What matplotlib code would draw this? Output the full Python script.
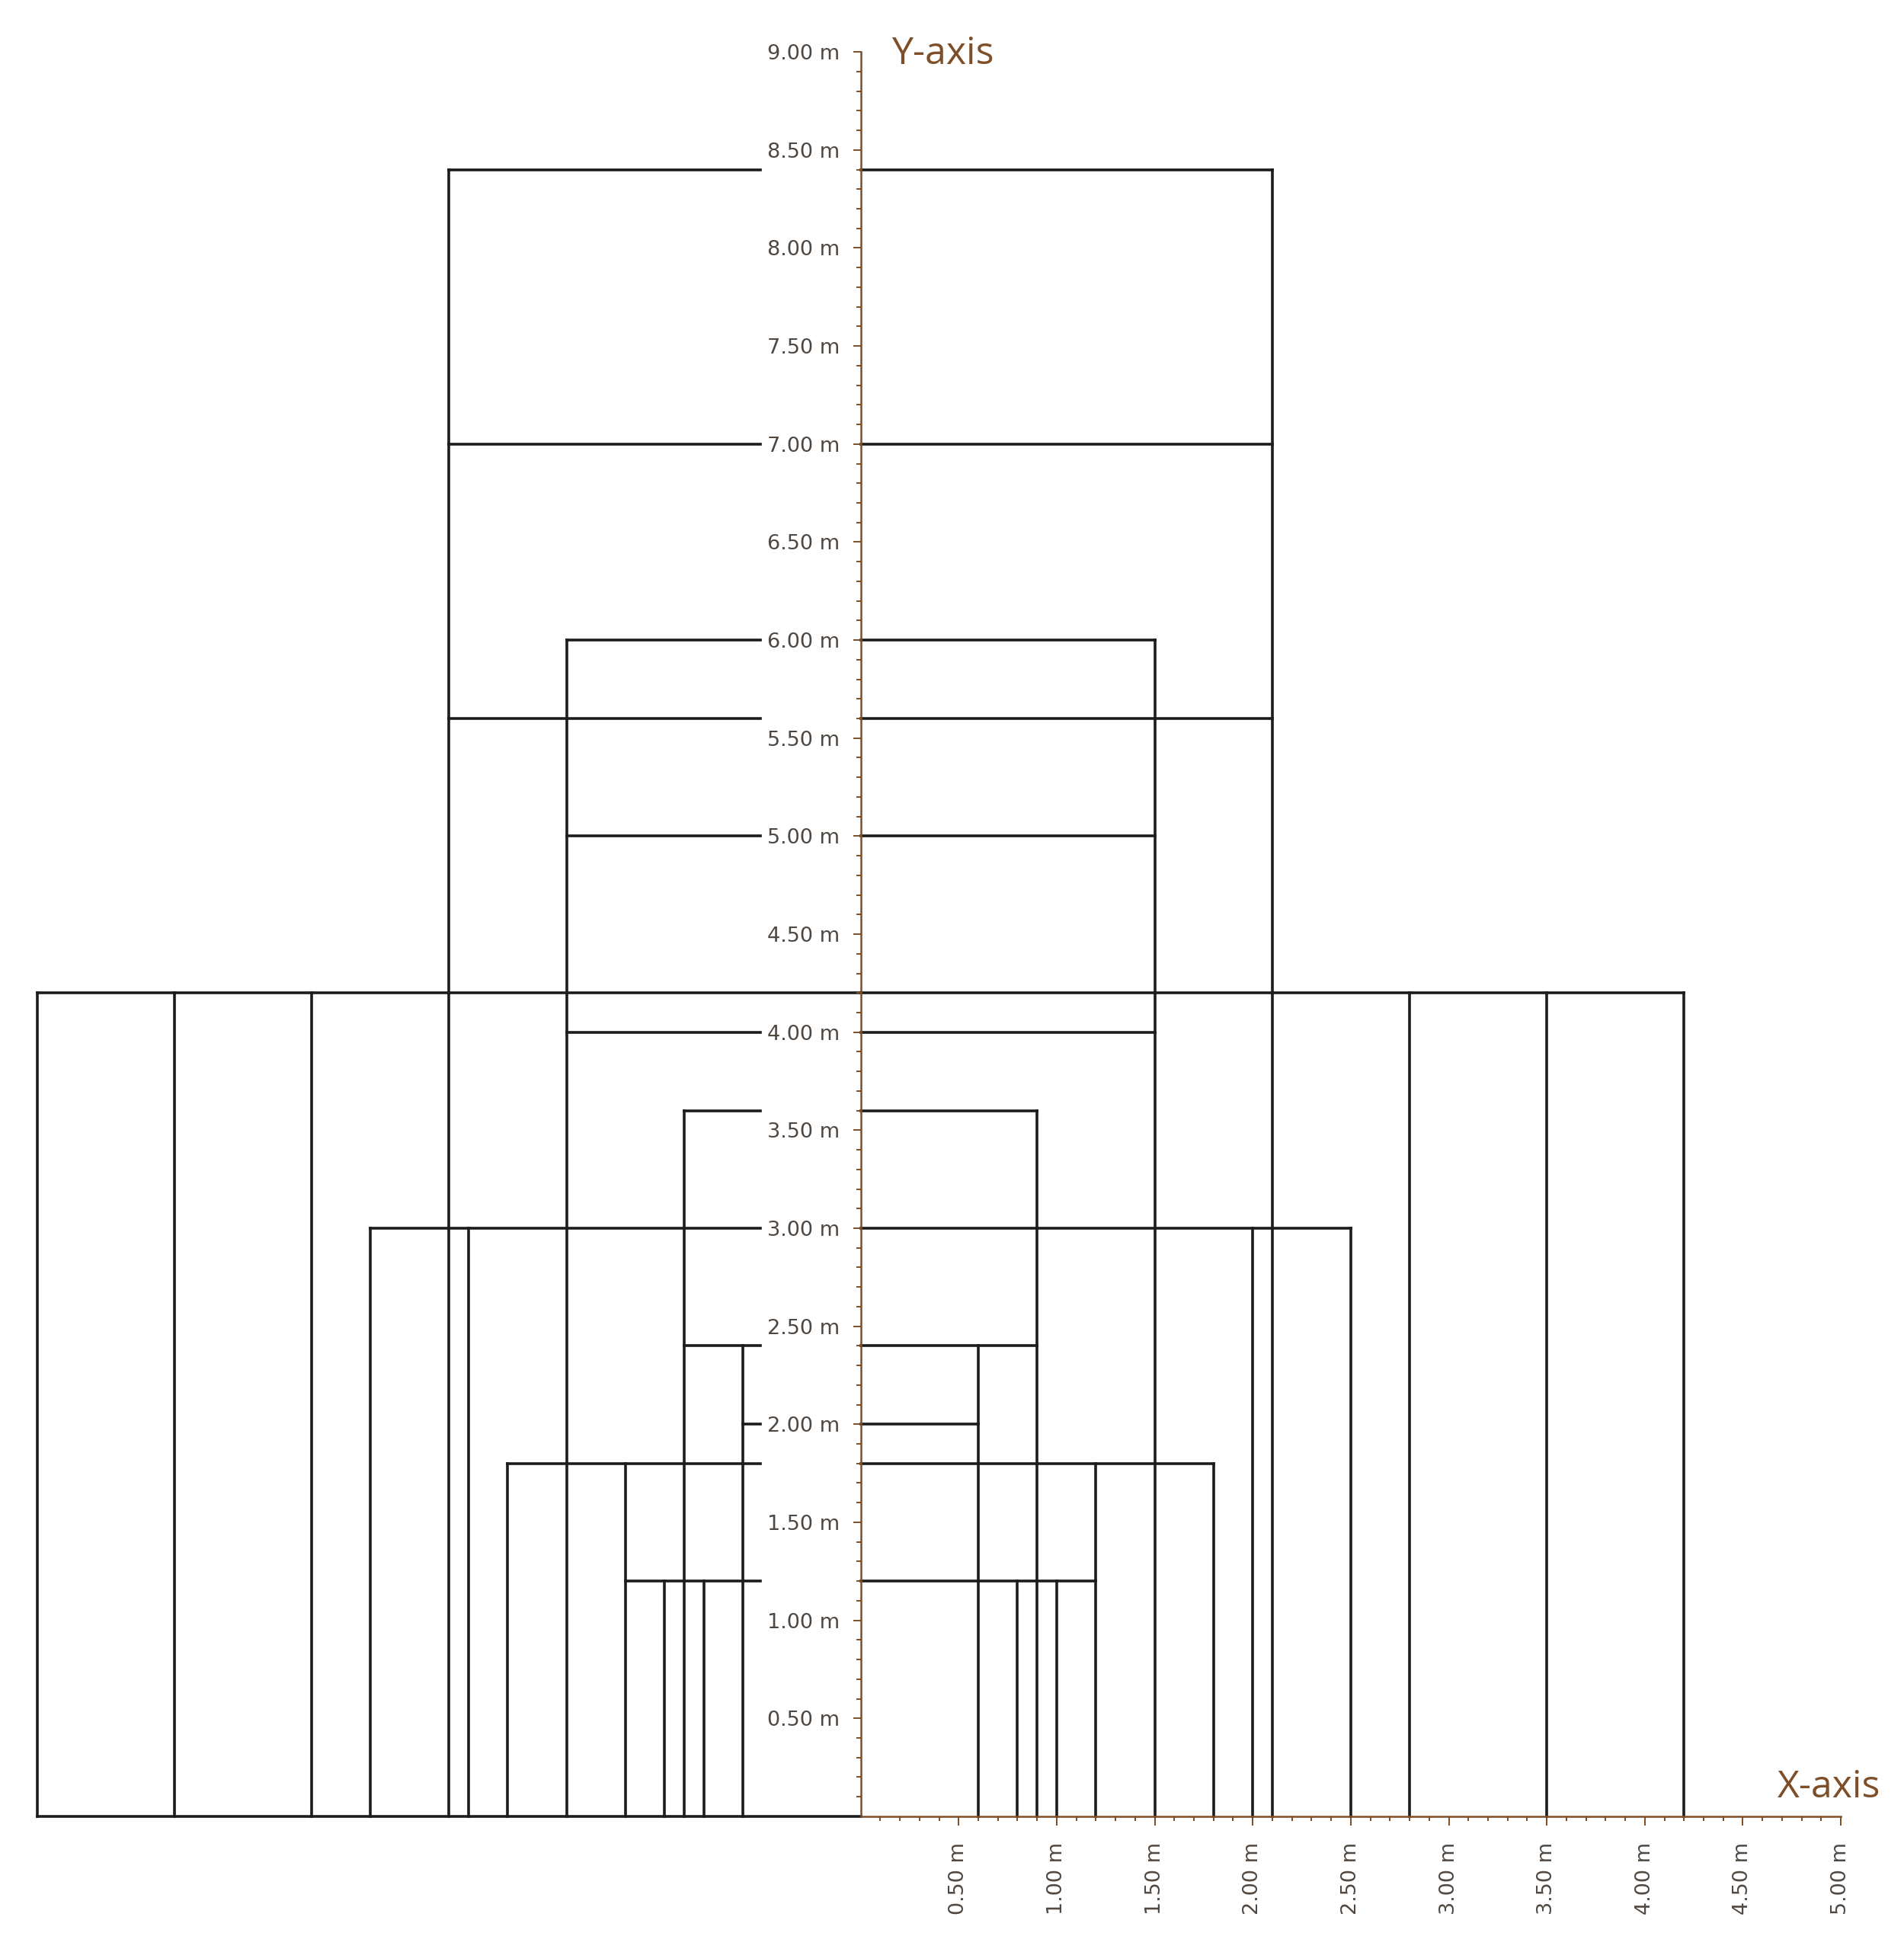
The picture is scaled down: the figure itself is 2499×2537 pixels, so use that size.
import matplotlib.pyplot as plt
import numpy as np
from matplotlib.ticker import FixedLocator

# horizontal members: height (m), half-width (m), and whether the left part runs through the label column
h_y = [8.4, 7.0, 6.0, 5.6, 5.0, 4.2, 4.0, 3.6, 3.0, 2.4, 2.0, 1.8, 1.2]
h_half = [2.1, 2.1, 1.5, 2.1, 1.5, 4.2, 1.5, 0.9, 2.5, 0.9, 0.6, 1.8, 1.2]
h_cross = [False, False, False, False, False, True, False, False, False, False, False, False, False]

# vertical members (mirrored about x=0): distance from axis (m) and top height (m)
v_x = [4.2, 3.5, 2.8, 2.5, 2.1, 2.0, 1.8, 1.5, 1.2, 1.0, 0.9, 0.8, 0.6]
v_top = [4.2, 4.2, 4.2, 3.0, 8.4, 3.0, 1.8, 6.0, 1.8, 1.2, 3.6, 1.2, 2.4]

y_ticks = [0.5, 1.0, 1.5, 2.0, 2.5, 3.0, 3.5, 4.0, 4.5, 5.0, 5.5, 6.0, 6.5, 7.0, 7.5, 8.0, 8.5, 9.0]
x_ticks = [0.5, 1.0, 1.5, 2.0, 2.5, 3.0, 3.5, 4.0, 4.5, 5.0]

brown = '#7d4e27'
label_grey = '#4f4740'
line_col = '#1c1c1c'
lw = 2.6
label_gap = 0.51  # left-hand lines stop short of the tick labels

fig = plt.figure(figsize=(24.99, 25.37), dpi=100)
ax = fig.add_axes([0, 0, 1, 1])
ax.set_xlim(-4.390, 5.322)
ax.set_ylim(-0.595, 9.265)

# verticals on both sides
xs = [-x for x in v_x] + v_x
tops = v_top + v_top
ax.vlines(xs, 0, tops, colors=line_col, linewidth=lw, capstyle='projecting')

# horizontals: right side from the axis, left side up to the label column
left_end = [0 if c else -label_gap for c in h_cross]
ax.hlines(h_y, 0, h_half, colors=line_col, linewidth=lw, capstyle='projecting')
ax.hlines(h_y, [-w for w in h_half], left_end, colors=line_col, linewidth=lw, capstyle='projecting')

# ground line on the left
ax.hlines(0, -max(h_half), 0, colors=line_col, linewidth=lw, capstyle='projecting')

# axes through the origin
for s in ['top', 'right']:
    ax.spines[s].set_visible(False)
ax.spines['left'].set_position(('data', 0))
ax.spines['bottom'].set_position(('data', 0))
ax.spines['left'].set_bounds(0, 9)
ax.spines['bottom'].set_bounds(0, 5)
for s in ['left', 'bottom']:
    ax.spines[s].set_color(brown)
    ax.spines[s].set_linewidth(1.8)
    ax.spines[s].set_zorder(3)
ax.set_axisbelow(False)

ax.set_yticks(y_ticks, labels=[f'{t:.2f} m' for t in y_ticks])
ax.set_xticks(x_ticks, labels=[f'{t:.2f} m' for t in x_ticks], rotation=90)
ax.yaxis.set_minor_locator(FixedLocator(np.arange(1, 90) / 10))
ax.xaxis.set_minor_locator(FixedLocator(np.arange(1, 50) / 10))

ax.tick_params(axis='both', which='both', color=brown, width=1.4, direction='out',
               labelcolor=label_grey, labelsize=19.5)
ax.tick_params(axis='y', which='major', length=7.5, pad=12.5)
ax.tick_params(axis='y', which='minor', length=4.5)
ax.tick_params(axis='x', which='major', length=8.5, pad=16)
ax.tick_params(axis='x', which='minor', length=4.5)
for lab in ax.get_xticklabels() + ax.get_yticklabels():
    lab.set_family('DejaVu Sans')

ax.text(0.157, 8.94, 'Y-axis', color=brown, fontsize=36, family='Open Sans',
        ha='left', va='baseline')
ax.text(4.677, 0.095, 'X-axis', color=brown, fontsize=36, family='Open Sans',
        ha='left', va='baseline')

fig.savefig('out.png', dpi=100, facecolor='white')
